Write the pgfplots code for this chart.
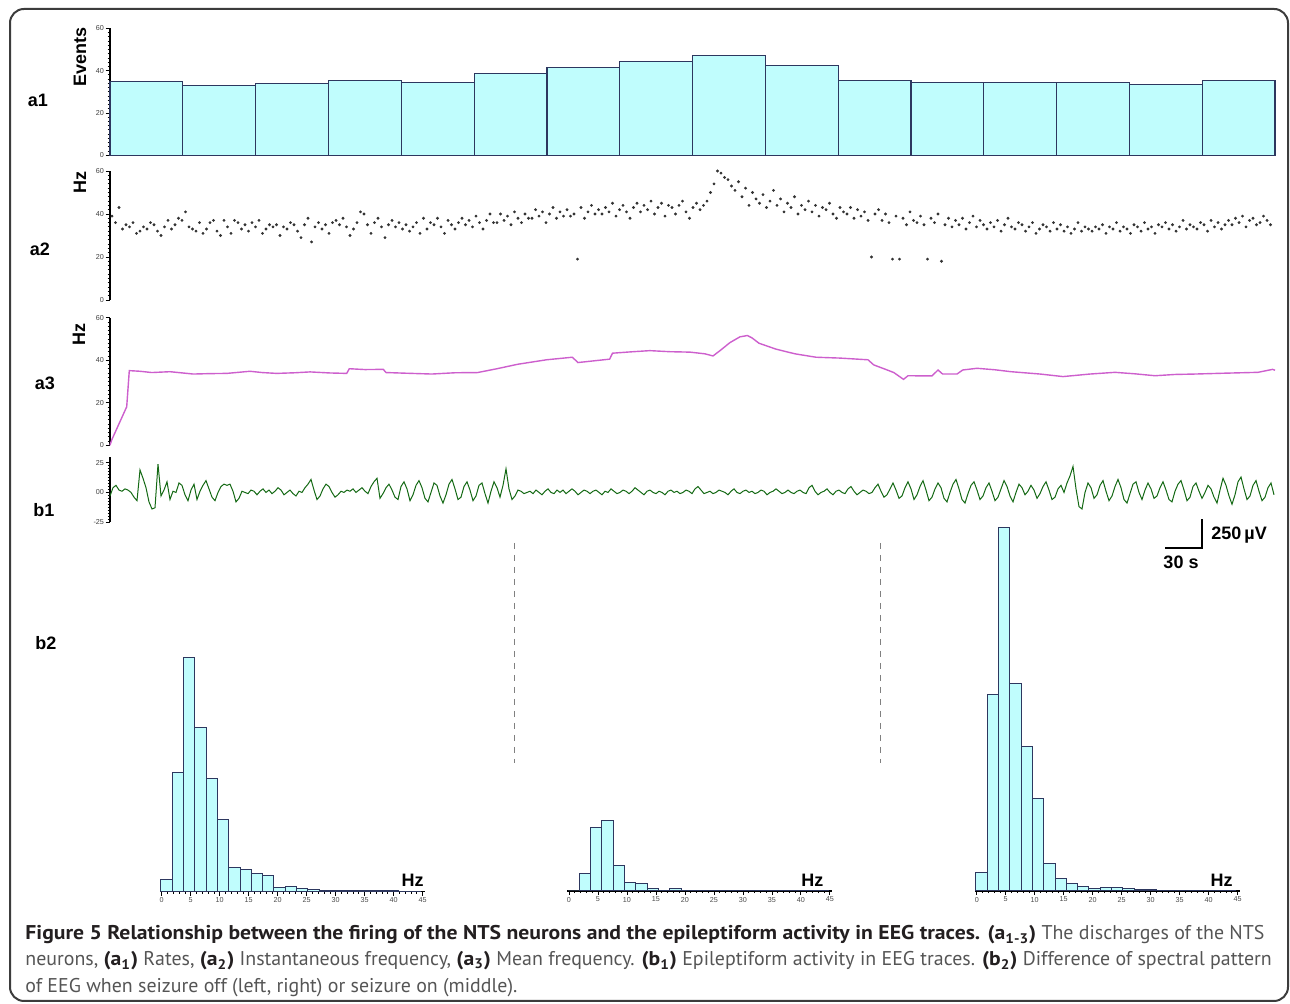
\documentclass[border=0pt]{standalone}
\usepackage{pgfplots}
\pgfplotsset{compat=1.18}
\usepackage{fontspec}
\setmainfont{PT Sans}[BoldFeatures={FakeStretch=1.09}]
\newfontfamily\lab{Liberation Sans}
\definecolor{barfill}{RGB}{192,253,253}
\definecolor{baredge}{RGB}{45,55,95}
\definecolor{a3col}{RGB}{205,95,205}
\definecolor{eeg}{RGB}{20,105,20}
\definecolor{framegray}{RGB}{60,60,60}
\definecolor{capbold}{RGB}{35,31,32}
\definecolor{captext}{RGB}{85,85,85}
\pgfplotsset{
 tp/.style={scale only axis, width=582.5pt, xmin=110, xmax=1275,
   axis x line=none, axis y line=left, axis line style={-, line width=0.6pt},
   xtick=\empty, tick align=outside, major tick length=2.2pt, minor tick length=1.2pt,
   every tick/.style={line width=0.4pt, black},
   yticklabel style={font=\fontsize{3.6}{4}\selectfont\lab, text=black!75, inner sep=0.6pt},
   anchor=south west, clip=false, /pgf/number format/assume math mode=true},
 hs/.style={scale only axis, width=132.5pt, height=185pt, xmin=-0.3, xmax=45.4,
   ymin=0, ymax=370, axis x line=bottom, axis y line=none,
   axis line style={-, line width=0.7pt}, xtick={0,5,...,45}, minor x tick num=4,
   tick align=outside, major tick length=2pt, minor tick length=1.1pt,
   every tick/.style={line width=0.4pt, black},
   xticklabel style={font=\fontsize{3.6}{4}\selectfont\lab, text=black!70, inner sep=0.8pt},
   anchor=south west, clip=false, /pgf/number format/assume math mode=true},
}
\begin{document}
\begin{tikzpicture}
\path[use as bounding box] (0,0) rectangle (645pt,502pt);
\draw[line width=1pt, draw=framegray, rounded corners=7pt] (5pt,1.5pt) rectangle (644pt,497.5pt);

% a1
\begin{axis}[tp, at={(55pt,424.35pt)}, height=63.5pt, ymin=0, ymax=60, ytick={0,20,40,60}, minor y tick num=9]
\addplot[ybar interval, fill=barfill, draw=baredge, line width=0.6pt] coordinates {
(110,35) (182.8,33.1) (255.6,34) (328.4,35.2) (401.3,34.2) (474.1,38.6) (546.9,41.4) (619.7,44.3) (692.5,47.1) (765.3,42.4) (838.1,35.2) (910.9,34.3) (983.8,34.3) (1056.6,34.3) (1129.4,33.3) (1202.2,35.2) (1275,35.2)};
\end{axis}

% a2
\begin{axis}[tp, at={(55pt,352pt)}, height=64.5pt, ymin=0, ymax=60, ytick={0,20,40,60}, minor y tick num=9]
\addplot[only marks, mark=*, mark size=0.5pt, draw=black!80, fill=black!80] table[row sep=\\, x expr=112+3.5*\coordindex, y index=0] {
39\\36\\43\\33\\35\\34\\36\\31\\32\\34\\
33\\36\\35\\32\\30\\34\\37\\33\\35\\38\\
37\\41\\34\\33\\32\\36\\31\\33\\36\\37\\
32\\30\\37\\34\\31\\37\\36\\33\\35\\32\\
36\\34\\37\\31\\33\\35\\34\\35\\30\\34\\
33\\36\\35\\32\\29\\35\\38\\27\\34\\36\\
33\\35\\31\\36\\37\\35\\38\\34\\30\\33\\
36\\41\\40\\35\\31\\36\\38\\34\\29\\35\\
37\\34\\36\\33\\35\\32\\34\\36\\31\\38\\
33\\36\\35\\38\\34\\31\\37\\35\\33\\36\\
38\\35\\37\\34\\39\\36\\33\\37\\40\\36\\
36\\40\\37\\39\\35\\41\\38\\36\\40\\38\\
38\\42\\39\\41\\36\\40\\43\\38\\41\\39\\
42\\39\\40\\19\\43\\38\\41\\44\\40\\42\\
40\\43\\41\\45\\39\\42\\44\\41\\38\\43\\
45\\41\\44\\42\\46\\40\\43\\45\\39\\44\\
43\\40\\44\\46\\41\\38\\43\\45\\42\\44\\
46\\50\\54\\60\\59\\57\\56\\53\\51\\55\\
48\\52\\44\\50\\47\\45\\49\\43\\46\\51\\
44\\47\\41\\45\\43\\48\\40\\44\\42\\46\\
41\\44\\39\\43\\42\\45\\40\\38\\43\\41\\
40\\43\\38\\42\\39\\41\\37\\20\\40\\42\\
37\\40\\36\\19\\39\\19\\38\\35\\41\\37\\
36\\39\\35\\19\\38\\36\\40\\18\\35\\38\\
34\\37\\35\\38\\33\\36\\39\\34\\37\\35\\
33\\36\\34\\37\\32\\35\\38\\34\\33\\36\\
35\\32\\34\\36\\31\\33\\35\\34\\32\\36\\
33\\35\\32\\34\\31\\33\\36\\32\\34\\33\\
32\\34\\33\\35\\31\\34\\33\\36\\32\\34\\
33\\31\\35\\34\\32\\36\\33\\34\\31\\35\\
34\\36\\33\\35\\32\\34\\37\\33\\35\\34\\
33\\36\\35\\32\\37\\34\\36\\33\\35\\37\\
35\\38\\36\\39\\34\\37\\38\\35\\36\\39\\37\\35\\
};
\end{axis}

% a3
\begin{axis}[tp, at={(55pt,279.35pt)}, height=63.8pt, ymin=0, ymax=60, ytick={0,20,40,60}, minor y tick num=9]
\addplot[draw=a3col, line width=0.7pt] coordinates {
(110,0) (111.7,2.5) (126.7,18.1) (129.3,35.1) (140,34.8) (151.7,34.2) (170,34.6) (193.3,33.5) (210,33.7) (226.7,33.8) (250,34.8) (262,34.2) (276.7,33.8) (295,34.1) (310,34.5) (330,34.0) (346.7,33.8) (349.3,36) (365,35.6) (383.3,35.7) (386,34.2) (405,33.9) (431.7,33.5) (455,34.1) (477.6,34.2) (497,36.0) (517.8,38.1) (546.5,40.2) (572.3,41.4) (578,38.9) (609.6,40.5) (612.5,43.3) (630,43.9) (649.8,44.5) (670,44.0) (690,43.8) (705,43.0) (713,42.0) (720,44.5) (730,48.3) (740,51.0) (747.4,51.6) (752,50.5) (758.9,48.0) (776,45.2) (795,43.0) (816,41.4) (840,41.0) (868,40.2) (873.7,37.8) (885,35.8) (893.8,34.2) (903.5,31.0) (908,32.7) (932,32.6) (938,35.4) (942.6,33.5) (957,33.5) (962.7,35.4) (977,36.2) (995,35.5) (1011,34.6) (1040,33.5) (1063,32.3) (1090,33.5) (1115,34.3) (1135,33.6) (1155,32.7) (1175,33.3) (1195,33.5) (1225,33.9) (1258,34.3) (1272.6,35.7) (1275,35.3)};
\end{axis}

% b1
\begin{axis}[tp, at={(55pt,241pt)}, height=32.5pt, ymin=-25, ymax=30, ytick={-25,0,25}, yticklabels={-25,00,25}, minor y tick num=9]
\addplot[draw=eeg, line width=0.5pt] table[row sep=\\, x expr=110+3*\coordindex, y index=0] {
-3\\4\\6\\2\\1\\3\\2\\0\\-4\\-7\\
19\\12\\4\\-8\\-14\\-13\\24\\-3\\2\\9\\
-6\\1\\0\\8\\6\\-2\\-7\\2\\7\\-6\\
1\\6\\10\\3\\-4\\-7\\0\\5\\7\\6\\
7\\1\\-8\\-5\\1\\0\\-1\\2\\1\\-2\\
1\\3\\0\\2\\-1\\1\\4\\2\\-2\\0\\
2\\-1\\-3\\1\\0\\4\\7\\11\\2\\-6\\
-3\\3\\7\\5\\0\\-4\\-2\\1\\0\\2\\
1\\3\\0\\2\\4\\1\\-1\\5\\9\\12\\
-5\\-1\\4\\7\\2\\-4\\-6\\5\\9\\3\\
-7\\-2\\6\\10\\4\\-5\\-8\\0\\8\\6\\
-3\\-9\\-2\\7\\11\\3\\-6\\-4\\5\\9\\
2\\-7\\-3\\6\\8\\-1\\-9\\1\\9\\4\\
-4\\6\\20\\3\\-6\\-3\\2\\1\\-1\\0\\
1\\-1\\2\\0\\-2\\1\\3\\0\\-1\\2\\
0\\2\\-1\\1\\3\\1\\-2\\0\\2\\1\\
-1\\1\\2\\0\\-2\\1\\0\\3\\1\\-1\\
0\\2\\1\\-1\\1\\4\\2\\0\\-2\\1\\
2\\0\\-1\\1\\0\\-2\\1\\2\\0\\1\\
-1\\0\\2\\1\\-1\\3\\5\\2\\-1\\0\\
1\\-1\\0\\2\\1\\0\\-2\\1\\3\\0\\
-1\\1\\2\\0\\1\\-1\\0\\2\\1\\-2\\
0\\1\\3\\1\\-1\\0\\2\\0\\-1\\1\\
2\\0\\-1\\4\\6\\1\\-2\\0\\1\\3\\
0\\-2\\1\\2\\0\\-1\\3\\5\\1\\-2\\
0\\2\\1\\-1\\0\\4\\7\\1\\-4\\-2\\
3\\8\\2\\-5\\-3\\4\\9\\3\\-6\\-2\\
5\\10\\2\\-7\\-4\\3\\8\\4\\-5\\-8\\
0\\7\\11\\3\\-6\\-9\\-1\\6\\9\\2\\
-6\\-3\\4\\8\\1\\-7\\-4\\3\\10\\5\\
-3\\-8\\0\\7\\4\\-2\\1\\6\\2\\-5\\
-1\\5\\9\\2\\-6\\-4\\3\\6\\0\\8\\
14\\22\\3\\-12\\-14\\0\\8\\4\\-5\\-2\\
6\\10\\1\\-7\\-3\\5\\11\\4\\-6\\-9\\
-1\\7\\9\\0\\-6\\2\\8\\3\\-5\\-3\\
4\\9\\2\\-6\\-8\\1\\7\\10\\2\\-7\\
-4\\5\\8\\1\\-5\\0\\6\\3\\-4\\-9\\
2\\12\\6\\-3\\-10\\-2\\9\\13\\3\\-6\\
-3\\6\\10\\1\\-7\\-4\\4\\8\\-2\\
};
\end{axis}

% b2 histograms
\begin{axis}[hs, at={(80pt,56.15pt)}]
\addplot[ybar interval, fill=barfill, draw=baredge, line width=0.5pt] coordinates {
(-0.15,12.3) (1.8,119.3) (3.75,234.3) (5.7,164) (7.65,113.3) (9.6,72.3) (11.55,23.7) (13.5,21.7) (15.45,18.3) (17.4,16) (19.35,4.3) (21.3,5) (23.25,3.3) (25.2,2.3) (27.15,0.8) (29.1,0.8) (31.05,0.8) (33,0.8) (34.95,0.8) (36.9,0.8) (38.85,0.8) (40.8,0) (42.75,0) (44.7,0)};
\end{axis}
\begin{axis}[hs, at={(283.6pt,56.5pt)}]
\addplot[ybar interval, fill=barfill, draw=baredge, line width=0.5pt] coordinates {
(-0.15,0) (1.8,17.7) (3.75,63.3) (5.7,70.3) (7.65,25.3) (9.6,8.7) (11.55,7) (13.5,2) (15.45,0.7) (17.4,2.3) (19.35,0.7) (21.3,0.7) (23.25,0.7) (25.2,0.3) (27.15,0.3) (29.1,0.7) (31.05,0.3) (33,0.3) (34.95,0.7) (36.9,0.7) (38.85,0.3) (40.8,0.3) (42.75,0.3) (44.7,0)};
\end{axis}
\begin{axis}[hs, at={(487.5pt,56.5pt)}]
\addplot[ybar interval, fill=barfill, draw=baredge, line width=0.5pt] coordinates {
(-0.15,18.7) (1.8,196.7) (3.75,363) (5.7,207.3) (7.65,144.7) (9.6,92.7) (11.55,27) (13.5,12.7) (15.45,7.7) (17.4,4.3) (19.35,2.7) (21.3,3.7) (23.25,3.7) (25.2,2.7) (27.15,1.7) (29.1,1) (31.05,0.7) (33,0.3) (34.95,0.3) (36.9,0.3) (38.85,0.3) (40.8,0.3) (42.75,0.3) (44.7,0)};
\end{axis}

% panel labels
\begin{scope}[every node/.style={font=\lab\bfseries\fontsize{9}{10}\selectfont, inner sep=0}]
\node at (19pt,452pt) {a1};
\node at (20pt,377.5pt) {a2};
\node at (22.5pt,310.5pt) {a3};
\node at (22pt,247pt) {b1};
\node at (23pt,180.5pt) {b2};
\node[rotate=90] at (40pt,473.5pt) {Events};
\node[rotate=90] at (40pt,410.5pt) {Hz};
\node[rotate=90] at (39.5pt,334.5pt) {Hz};
\node at (206.25pt,62pt) {Hz};
\node at (406.2pt,61.75pt) {Hz};
\node at (610.75pt,62pt) {Hz};
\node[anchor=west] at (605.5pt,234.5pt) {250\,µV};
\node at (590.5pt,221pt) {30 s};
\end{scope}

% scale bar
\draw[line width=0.8pt] (582.5pt,228pt) -- (601pt,228pt) -- (601pt,242.5pt);
% dashed separators
\draw[gray, dashed, line width=0.5pt] (257pt,230.5pt) -- (257pt,120.5pt);
\draw[gray, dashed, line width=0.5pt] (440pt,230.5pt) -- (440pt,120.5pt);

% caption
\begin{scope}[every node/.style={anchor=base west, inner sep=0, font=\fontsize{9.95}{11}\selectfont, text=captext}]
\node at (12.5pt,32pt) {\textcolor{capbold}{\bfseries Figure 5 Relationship between the firing of the NTS neurons and the epileptiform activity in EEG traces. (a\textsubscript{1-3})} The discharges of the NTS};
\node at (12.5pt,19pt) {neurons, \textcolor{capbold}{\bfseries(a\textsubscript{1})} Rates, \textcolor{capbold}{\bfseries(a\textsubscript{2})} Instantaneous frequency, \textcolor{capbold}{\bfseries(a\textsubscript{3})} Mean frequency. \textcolor{capbold}{\bfseries(b\textsubscript{1})} Epileptiform activity in EEG traces. \textcolor{capbold}{\bfseries(b\textsubscript{2})} Difference of spectral pattern};
\node at (12.5pt,5.5pt) {of EEG when seizure off (left, right) or seizure on (middle).};
\end{scope}
\end{tikzpicture}
\end{document}
